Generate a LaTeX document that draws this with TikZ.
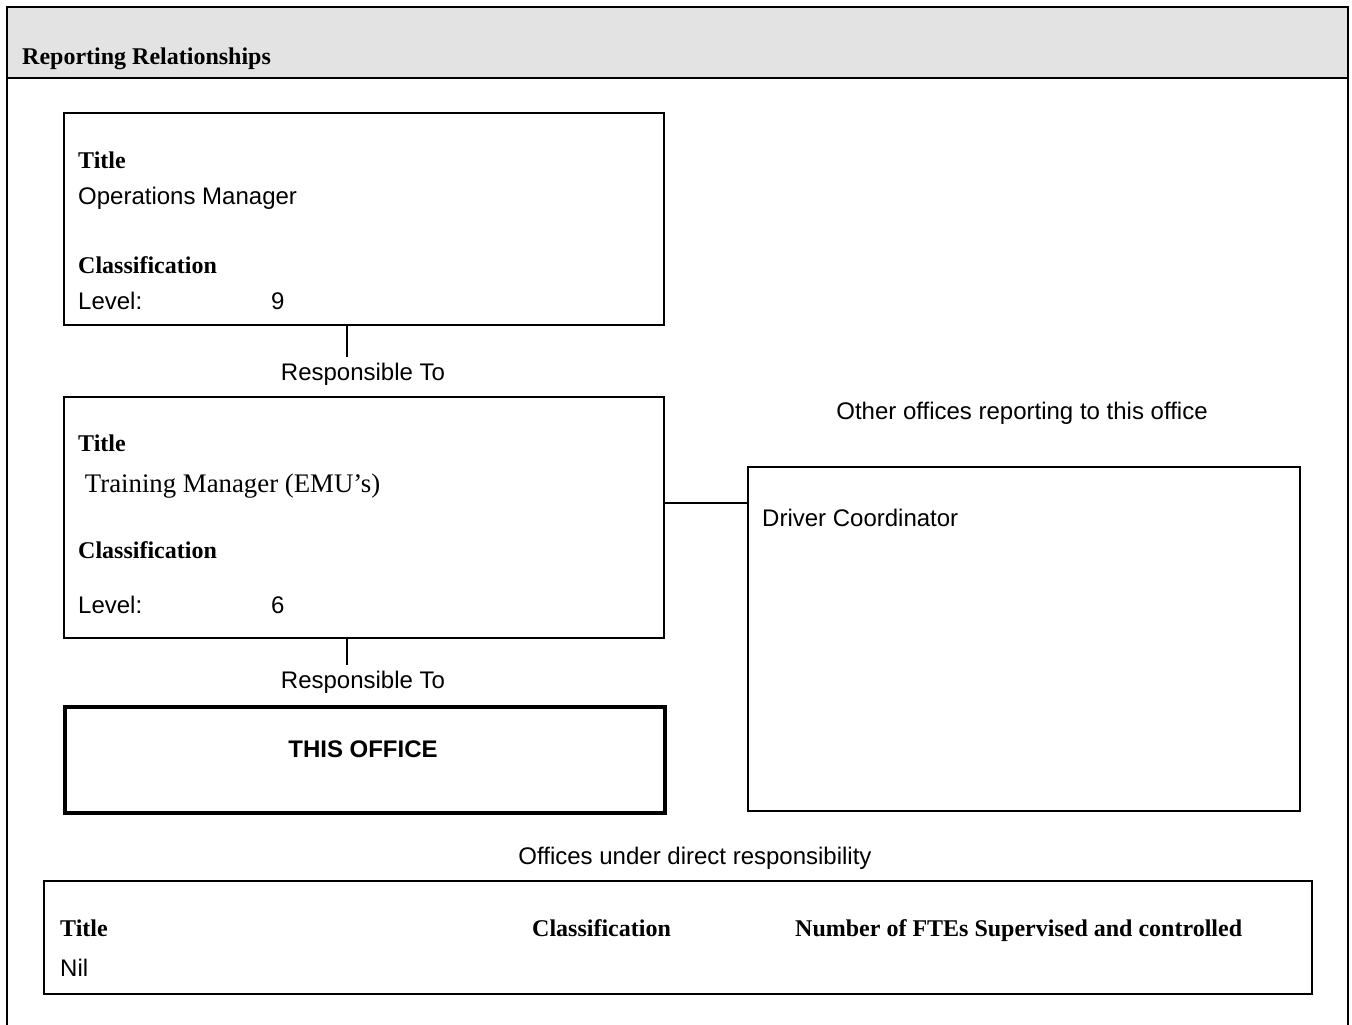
\documentclass[tikz,border=0pt]{standalone}
\usepackage{fontspec}
\setmainfont{Liberation Serif}
\setsansfont{Liberation Sans}
\begin{document}
\begin{tikzpicture}[x=1pt,y=-1pt,
  box/.style={draw,line width=1.8pt,rectangle,anchor=north west,inner sep=0pt},
  heavybox/.style={draw,line width=3.8pt,rectangle,anchor=north west,inner sep=0pt},
  base/.style={inner sep=0pt,text height=18pt,text depth=2pt},
  lbl/.style={base,anchor=west,font=\fontsize{24}{28}\selectfont\bfseries},
  txt/.style={base,anchor=west,font=\fontsize{24}{28}\selectfont\sffamily},
  rtxt/.style={base,anchor=west,font=\fontsize{26.8}{30}\selectfont},
  ctxt/.style={base,anchor=center,font=\fontsize{24}{28}\selectfont\sffamily},
  conn/.style={line width=1.8pt}]
\useasboundingbox (0,0) rectangle (1352,1025);
\clip (0,0) rectangle (1352,1025);
% outer frame and header
\fill[fill={rgb,255:red,227;green,227;blue,227}] (7,7) rectangle (1348,78);
\draw[line width=2.6pt] (7,1040) -- (7,7) -- (1348,7) -- (1348,1040);
\draw[line width=2.6pt] (7,78) -- (1348,78);
\node[lbl] (hdr) at (22,56) {Reporting Relationships};
% box 1
\node[box,minimum width=600pt,minimum height=212pt] (b1) at (63,112) {};
\node[lbl] (b1t) at (78,160) {Title};
\node[txt] (b1n) at (78,196) {Operations Manager};
\node[lbl] (b1c) at (78,265) {Classification};
\node[txt] (b1l) at (78,301) {Level:};
\node[txt] (b1v) at (271,301) {9};
\coordinate (r1) at (347,357);
\draw[conn] (r1 |- b1.south) -- (r1);
\node[ctxt] (rt1) at (363,372) {Responsible To};
% box 2
\node[box,minimum width=600pt,minimum height=241pt] (b2) at (63,396) {};
\node[lbl] (b2t) at (78,443) {Title};
\node[rtxt] (b2n) at (78,484) {\ Training Manager (EMU’s)};
\node[lbl] (b2c) at (78,550) {Classification};
\node[txt] (b2l) at (78,605) {Level:};
\node[txt] (b2v) at (271,605) {6};
\coordinate (r2) at (347,665);
\draw[conn] (r2 |- b2.south) -- (r2);
\node[ctxt] (rt2) at (363,680) {Responsible To};
% this office
\node[heavybox,minimum width=600pt,minimum height=106pt] (me) at (63,705) {};
\node[ctxt,font=\fontsize{24}{28}\selectfont\sffamily\bfseries] (met) at (363,749) {THIS OFFICE};
% other offices
\node[ctxt] (oth) at (1022,411) {Other offices reporting to this office};
\node[box,minimum width=552pt,minimum height=344pt] (drv) at (747,466) {};
\node[txt] (drvt) at (762,518) {Driver Coordinator};
\coordinate (hc) at (700,503);
\draw[conn] (b2.east |- hc) -- (drv.west |- hc);
% offices under direct responsibility
\node[ctxt] (und) at (695,856) {Offices under direct responsibility};
\node[box,minimum width=1268pt,minimum height=113pt] (ub) at (43,880) {};
\node[lbl] (ut) at (60,928) {Title};
\node[lbl] (uc) at (532,928) {Classification};
\node[lbl] (uf) at (795,928) {Number of FTEs Supervised and controlled};
\node[txt] (un) at (60,968) {Nil};
\end{tikzpicture}
\end{document}
